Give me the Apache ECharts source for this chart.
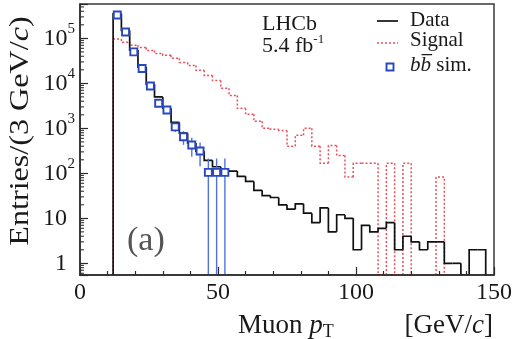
<!DOCTYPE html>
<html>
<head>
<meta charset="utf-8">
<script src="https://cdn.jsdelivr.net/npm/echarts@6/dist/echarts.min.js"></script>
<style>
  html, body { margin: 0; padding: 0; background: #ffffff; }
  #chart { width: 515px; height: 339px; }
</style>
</head>
<body>
<div id="chart"></div>
<script>
// Muon transverse momentum, 3 GeV/c bins starting at 12 GeV/c
const BIN_START = 12;
const BIN_WIDTH = 3;

// Data: entries per bin (12-15, 15-18, ..., 144-147)
const dataCounts = [
  350000, 150000, 55000, 23000, 9500, 5000, 2800, 1350, 780, 470,
  310, 195, 140, 118, 112, 86, 66, 42, 32, 29,
  20, 16, 21, 13, 8, 17, 5, 12, 10, 2,
  7, 5, 6, 8, 2, 4, 3, 2, 3, 3,
  1, 1, 0, 2, 2
];

// Signal simulation: entries per bin (12-15, ..., 129-132)
const signalCounts = [
  97000, 82000, 70000, 63000, 54000, 46000, 42000, 36000, 29000, 25000,
  19500, 15000, 11500, 7800, 5400, 2800, 2050, 1430, 1000, 950,
  900, 400, 700, 1000, 400, 167, 418, 250, 83, 167,
  167, 167, 0, 167, 0, 167, 0, 0, 0, 83
];

// b-bbar simulation: bin centres, entries and uncertainties
const bbCenters = [13.5, 16.5, 19.5, 22.5, 25.5, 28.5, 31.5, 34.5, 37.5, 40.5, 43.5, 46.5, 49.5, 52.5];
const bbValues  = [330000, 138000, 50000, 21300, 8700, 3600, 2550, 1080, 650, 425, 313, 105, 105, 105];
const bbErrors  = [5000, 3000, 1500, 1000, 700, 500, 400, 250, 220, 190, 170, 108, 108, 108];

// Axis ranges
const X_MIN = 0, X_MAX = 150;
const Y_MIN = 0.55, Y_MAX = 580000;

// Minor ticks of the logarithmic y axis (2..9 x 10^n)
const yMinorTicks = [];
for (let n = -1; n <= 5; n++) {
  for (let k = 2; k <= 9; k++) {
    const v = k * Math.pow(10, n);
    if (v > Y_MIN && v < Y_MAX) yMinorTicks.push(v);
  }
}

const FONT = 'Liberation Serif';
const INK = '#1a1a1a';
const RED = '#e8505c';
const BLUE = '#2848c0';
const BLUE_BAR = '#4f72e0';
const MARKER_HALF = 3.5;

function histTable(counts) {
  return counts.map(function (c, i) {
    const prev = i === 0 ? 0 : counts[i - 1];
    return [BIN_START + i * BIN_WIDTH, BIN_START + (i + 1) * BIN_WIDTH,
            Math.max(c, Y_MIN), Math.max(prev, Y_MIN)];
  });
}

function histRenderer(color, width, dash, count) {
  return function (params, api) {
    const x0 = api.value(0), x1 = api.value(1);
    const v = api.value(2), pv = api.value(3);
    const pts = [api.coord([x0, pv]), api.coord([x0, v]), api.coord([x1, v])];
    if (params.dataIndex === count - 1) pts.push(api.coord([x1, Y_MIN]));
    return {
      type: 'polyline',
      shape: { points: pts },
      style: { stroke: color, lineWidth: width, fill: null, lineDash: dash }
    };
  };
}

function bbRenderer(params, api) {
  const x = api.value(0), v = api.value(1), e = api.value(2);
  const lo = Math.max(v - e, Y_MIN);
  const c = api.coord([x, v]);
  const top = api.coord([x, v + e]);
  const bot = api.coord([x, lo]);
  const h = MARKER_HALF;
  return {
    type: 'group',
    children: [
      { type: 'line', shape: { x1: c[0], y1: top[1], x2: c[0], y2: bot[1] },
        style: { stroke: BLUE_BAR, lineWidth: 1.4 } },
      { type: 'rect', shape: { x: c[0] - h, y: c[1] - h, width: 2 * h, height: 2 * h },
        style: { stroke: BLUE, fill: '#ffffff', lineWidth: 1.9 } }
    ]
  };
}

function minorTickRenderer(params, api) {
  const p = api.coord([X_MIN, api.value(1)]);
  return {
    type: 'line',
    shape: { x1: p[0], y1: p[1], x2: p[0] + 4, y2: p[1] },
    style: { stroke: '#333', lineWidth: 1.1 }
  };
}

const chart = echarts.init(document.getElementById('chart'), null, { renderer: 'canvas' });

chart.setOption({
  animation: false,
  backgroundColor: '#ffffff',
  grid: {
    left: 80, right: 21, top: 4, bottom: 64,
    containLabel: false, outerBoundsMode: 'none',
    show: true, borderColor: '#3a3a3a', borderWidth: 1.5
  },
  xAxis: {
    type: 'value', min: X_MIN, max: X_MAX, interval: 50, z: 10,
    axisLine: { show: true, lineStyle: { color: '#2a2a2a', width: 1.5 } },
    axisTick: { show: true, inside: true, length: 8, lineStyle: { color: '#2a2a2a', width: 1.2 } },
    minorTick: { show: true, splitNumber: 5, length: 4, lineStyle: { color: '#2a2a2a', width: 1.2 } },
    splitLine: { show: false },
    axisLabel: { margin: 6, fontFamily: FONT, fontSize: 24, color: INK }
  },
  yAxis: {
    type: 'log', logBase: 10, min: Y_MIN, max: Y_MAX, z: 10,
    axisLine: { show: true, lineStyle: { color: '#2a2a2a', width: 1.5 } },
    axisTick: { show: true, inside: true, length: 8, lineStyle: { color: '#2a2a2a', width: 1.2 } },
    splitLine: { show: false },
    axisLabel: {
      margin: 5, fontFamily: FONT, fontSize: 24, color: INK,
      formatter: function (v) {
        const e = Math.log10(v);
        const n = Math.round(e);
        if (Math.abs(e - n) > 1e-6) return '';
        if (n === 0) return '{p|1}';
        if (n === 1) return '{p|10}';
        return '{m|10}{s|' + n + '}';
      },
      rich: {
        p: { fontFamily: FONT, fontSize: 24, color: INK, padding: [0, 8, 0, 0] },
        m: { fontFamily: FONT, fontSize: 24, color: INK },
        s: { fontFamily: FONT, fontSize: 15, color: INK, padding: [0, 0, 18, 0] }
      }
    }
  },
  series: [
    {
      name: 'Signal', type: 'custom', clip: true, z: 2,
      encode: { x: [0, 1], y: [2, 3] },
      data: histTable(signalCounts),
      renderItem: histRenderer(RED, 1.5, [2, 2], signalCounts.length)
    },
    {
      name: 'Data', type: 'custom', clip: true, z: 3,
      encode: { x: [0, 1], y: [2, 3] },
      data: histTable(dataCounts),
      renderItem: histRenderer('#111111', 1.7, null, dataCounts.length)
    },
    {
      name: 'bb sim.', type: 'custom', clip: true, z: 4,
      encode: { x: 0, y: 1 },
      data: bbCenters.map(function (x, i) { return [x, bbValues[i], bbErrors[i]]; }),
      renderItem: bbRenderer
    },
    {
      name: 'minor ticks', type: 'custom', clip: false, z: 11, silent: true,
      encode: { x: 0, y: 1 },
      data: yMinorTicks.map(function (v) { return [X_MIN, v]; }),
      renderItem: minorTickRenderer
    }
  ],
  graphic: [
    // y-axis title, reading bottom to top
    { type: 'text', x: 21, y: 131, rotation: Math.PI / 2, scaleX: 1.19, z: 20,
      style: { text: 'Entries/(3 GeV/{i|c})', fontFamily: FONT, fontSize: 27, fill: INK,
        align: 'center', verticalAlign: 'middle',
        rich: { i: { fontFamily: FONT, fontSize: 27, fill: INK, fontStyle: 'italic' } } } },
    // Experiment label
    { type: 'text', left: 262, top: 13, z: 20,
      style: { text: 'LHCb', fontFamily: FONT, fontSize: 22, fill: INK } },
    { type: 'text', left: 262, top: 33, z: 20,
      style: { text: '5.4 fb{s|-1}', fontFamily: FONT, fontSize: 22, fill: INK,
        rich: { s: { fontFamily: FONT, fontSize: 13, fill: INK, padding: [0, 0, 14, 0] } } } },
    // Legend
    { type: 'line', z: 20, shape: { x1: 377, y1: 21, x2: 398, y2: 21 },
      style: { stroke: '#111111', lineWidth: 1.7 } },
    { type: 'text', left: 410, top: 10, z: 20,
      style: { text: 'Data', fontFamily: FONT, fontSize: 21, fill: INK } },
    { type: 'line', z: 20, shape: { x1: 377, y1: 43, x2: 398, y2: 43 },
      style: { stroke: RED, lineWidth: 1.5, lineDash: [2, 2] } },
    { type: 'text', left: 410, top: 30, z: 20,
      style: { text: 'Signal', fontFamily: FONT, fontSize: 21, fill: INK } },
    { type: 'rect', z: 20, shape: { x: 386.5, y: 63.5, width: 7, height: 7 },
      style: { stroke: BLUE, fill: '#ffffff', lineWidth: 1.9 } },
    { type: 'text', left: 410, top: 55, z: 20,
      style: { text: '{i|bb\u0305} sim.', fontFamily: FONT, fontSize: 21, fill: INK,
        rich: { i: { fontFamily: FONT, fontSize: 21, fill: INK, fontStyle: 'italic' } } } },
    // Panel tag
    { type: 'text', left: 127, top: 224, z: 20,
      style: { text: '(a)', fontFamily: FONT, fontSize: 34, fill: '#555555' } },
    // x-axis title
    { type: 'text', left: 238, top: 312, z: 20,
      style: { text: 'Muon {i|p}{t|T}', fontFamily: FONT, fontSize: 27, fill: INK,
        rich: {
          i: { fontFamily: FONT, fontSize: 27, fill: INK, fontStyle: 'italic' },
          t: { fontFamily: FONT, fontSize: 18, fill: INK, padding: [14, 0, 0, 0] }
        } } },
    { type: 'text', right: 22, top: 312, z: 20,
      style: { text: '[GeV/{i|c}]', fontFamily: FONT, fontSize: 27, fill: INK,
        rich: { i: { fontFamily: FONT, fontSize: 27, fill: INK, fontStyle: 'italic' } } } }
  ]
});
</script>
</body>
</html>
